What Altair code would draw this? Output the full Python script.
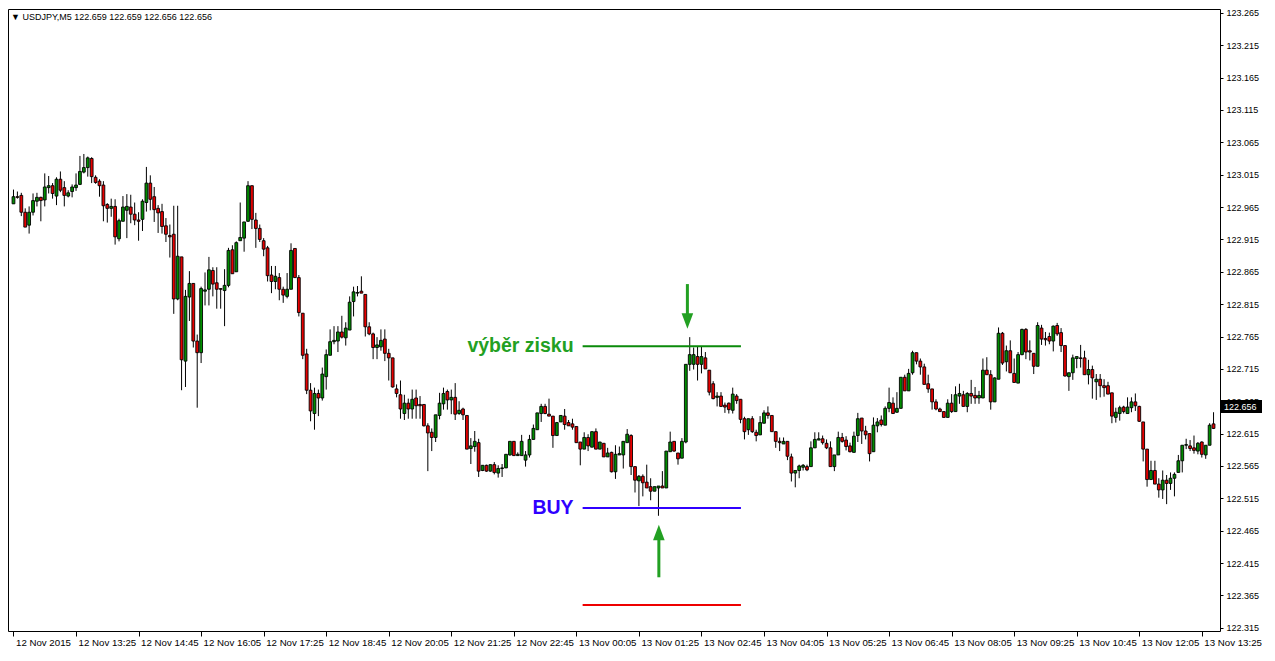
import json
import altair as alt
import pandas as pd

# ---------------- data (USDJPY M5) ----------------
OPEN = [
    122.970, 122.981, 122.983, 122.957, 122.937, 122.957, 122.974, 122.980, 122.976, 122.995,
    122.998, 122.982, 123.008, 122.995, 122.982, 122.989, 122.995, 123.000, 123.019, 123.026,
    123.040, 123.011, 123.005, 122.999, 122.969, 122.963, 122.966, 122.916, 122.943, 122.960,
    122.965, 122.954, 122.945, 122.946, 122.972, 123.002, 122.981, 122.963, 122.958, 122.936,
    122.921, 122.923, 122.823, 122.888, 122.727, 122.826, 122.847, 122.758, 122.740, 122.835,
    122.838, 122.867, 122.848, 122.839, 122.836, 122.844, 122.899, 122.865, 122.913, 122.917,
    122.943, 122.998, 122.945, 122.932, 122.913, 122.902, 122.860, 122.850, 122.856, 122.838,
    122.827, 122.838, 122.901, 122.856, 122.801, 122.738, 122.682, 122.646, 122.677, 122.670,
    122.703, 122.736, 122.757, 122.758, 122.772, 122.763, 122.775, 122.819, 122.832, 122.835,
    122.830, 122.780, 122.769, 122.748, 122.749, 122.761, 122.739, 122.732, 122.684, 122.675,
    122.646, 122.662, 122.653, 122.670, 122.660, 122.660, 122.627, 122.617, 122.609, 122.643,
    122.661, 122.680, 122.667, 122.671, 122.646, 122.653, 122.643, 122.592, 122.595, 122.601,
    122.558, 122.566, 122.557, 122.567, 122.554, 122.561, 122.562, 122.582, 122.603, 122.581,
    122.581, 122.574, 122.582, 122.606, 122.621, 122.646, 122.657, 122.645, 122.642, 122.612,
    122.633, 122.642, 122.632, 122.630, 122.626, 122.602, 122.591, 122.609, 122.594, 122.618,
    122.591, 122.600, 122.579, 122.586, 122.556, 122.582, 122.582, 122.601, 122.612, 122.564,
    122.542, 122.549, 122.540, 122.533, 122.526, 122.531, 122.534, 122.531, 122.587, 122.603,
    122.585, 122.577, 122.602, 122.722, 122.722, 122.734, 122.722, 122.732, 122.713, 122.692,
    122.671, 122.673, 122.659, 122.662, 122.651, 122.673, 122.668, 122.638, 122.621, 122.638,
    122.617, 122.613, 122.631, 122.647, 122.643, 122.618, 122.603, 122.599, 122.603, 122.579,
    122.554, 122.558, 122.563, 122.564, 122.564, 122.593, 122.605, 122.607, 122.600, 122.593,
    122.564, 122.582, 122.609, 122.605, 122.596, 122.586, 122.612, 122.639, 122.619, 122.615,
    122.587, 122.627, 122.636, 122.628, 122.654, 122.662, 122.648, 122.654, 122.702, 122.681,
    122.709, 122.740, 122.727, 122.718, 122.692, 122.684, 122.664, 122.653, 122.649, 122.640,
    122.662, 122.649, 122.673, 122.675, 122.657, 122.677, 122.674, 122.670, 122.670, 122.713,
    122.706, 122.664, 122.699, 122.770, 122.726, 122.743, 122.708, 122.693, 122.737, 122.776,
    122.743, 122.739, 122.719, 122.778, 122.762, 122.765, 122.758, 122.782, 122.771, 122.751,
    122.703, 122.709, 122.731, 122.732, 122.732, 122.706, 122.714, 122.695, 122.699, 122.689,
    122.689, 122.678, 122.640, 122.646, 122.656, 122.646, 122.655, 122.664, 122.657, 122.633,
    122.591, 122.544, 122.558, 122.537, 122.528, 122.543, 122.538, 122.546, 122.555, 122.573,
    122.597, 122.596, 122.593, 122.588, 122.602, 122.582, 122.597, 122.630,
]
HIGH = [
    122.992, 122.989, 122.987, 122.963, 122.966, 122.986, 122.987, 122.981, 123.017, 123.013,
    123.002, 123.011, 123.020, 123.005, 122.991, 123.000, 123.017, 123.044, 123.047, 123.043,
    123.042, 123.014, 123.008, 123.005, 122.971, 122.978, 122.977, 122.947, 122.982, 122.985,
    122.984, 122.972, 122.957, 122.977, 123.027, 123.014, 122.996, 122.968, 122.970, 122.948,
    122.938, 122.967, 122.967, 122.888, 122.837, 122.866, 122.847, 122.768, 122.842, 122.864,
    122.888, 122.872, 122.872, 122.839, 122.869, 122.902, 122.906, 122.912, 122.972, 122.942,
    123.005, 122.998, 122.956, 122.938, 122.917, 122.905, 122.874, 122.874, 122.863, 122.842,
    122.863, 122.909, 122.901, 122.860, 122.801, 122.746, 122.693, 122.686, 122.683, 122.717,
    122.745, 122.776, 122.781, 122.781, 122.797, 122.787, 122.827, 122.842, 122.843, 122.858,
    122.830, 122.787, 122.771, 122.764, 122.776, 122.776, 122.746, 122.732, 122.691, 122.697,
    122.675, 122.669, 122.683, 122.683, 122.673, 122.660, 122.631, 122.623, 122.644, 122.678,
    122.686, 122.683, 122.683, 122.693, 122.665, 122.655, 122.643, 122.608, 122.619, 122.607,
    122.566, 122.567, 122.567, 122.571, 122.566, 122.568, 122.583, 122.603, 122.603, 122.586,
    122.613, 122.588, 122.613, 122.629, 122.647, 122.661, 122.661, 122.669, 122.642, 122.633,
    122.643, 122.653, 122.636, 122.638, 122.626, 122.602, 122.617, 122.614, 122.618, 122.623,
    122.602, 122.600, 122.593, 122.587, 122.597, 122.595, 122.603, 122.622, 122.614, 122.564,
    122.551, 122.552, 122.567, 122.546, 122.533, 122.534, 122.557, 122.588, 122.618, 122.603,
    122.585, 122.608, 122.722, 122.764, 122.748, 122.750, 122.750, 122.741, 122.713, 122.696,
    122.679, 122.679, 122.663, 122.663, 122.686, 122.676, 122.668, 122.641, 122.638, 122.642,
    122.621, 122.642, 122.651, 122.657, 122.643, 122.618, 122.609, 122.609, 122.603, 122.584,
    122.558, 122.567, 122.568, 122.567, 122.603, 122.617, 122.617, 122.612, 122.606, 122.603,
    122.582, 122.618, 122.616, 122.611, 122.601, 122.618, 122.647, 122.639, 122.627, 122.615,
    122.640, 122.639, 122.643, 122.657, 122.686, 122.671, 122.679, 122.702, 122.706, 122.715,
    122.743, 122.740, 122.731, 122.723, 122.706, 122.684, 122.668, 122.655, 122.649, 122.668,
    122.676, 122.688, 122.692, 122.681, 122.679, 122.698, 122.687, 122.681, 122.731, 122.733,
    122.713, 122.702, 122.779, 122.772, 122.751, 122.759, 122.731, 122.741, 122.777, 122.778,
    122.759, 122.739, 122.787, 122.783, 122.772, 122.771, 122.782, 122.786, 122.778, 122.751,
    122.709, 122.737, 122.734, 122.752, 122.743, 122.729, 122.720, 122.707, 122.707, 122.699,
    122.695, 122.678, 122.655, 122.658, 122.658, 122.671, 122.671, 122.677, 122.658, 122.633,
    122.591, 122.573, 122.573, 122.546, 122.558, 122.551, 122.555, 122.555, 122.582, 122.597,
    122.607, 122.605, 122.612, 122.602, 122.603, 122.597, 122.631, 122.648,
]
LOW = [
    122.970, 122.978, 122.951, 122.934, 122.924, 122.952, 122.966, 122.943, 122.966, 122.986,
    122.978, 122.968, 122.988, 122.966, 122.980, 122.980, 122.990, 122.999, 123.017, 123.012,
    123.002, 123.001, 122.981, 122.943, 122.941, 122.950, 122.907, 122.912, 122.943, 122.917,
    122.940, 122.937, 122.913, 122.928, 122.958, 122.960, 122.942, 122.925, 122.924, 122.911,
    122.887, 122.800, 122.821, 122.682, 122.687, 122.789, 122.748, 122.655, 122.724, 122.813,
    122.813, 122.827, 122.808, 122.808, 122.781, 122.841, 122.862, 122.865, 122.913, 122.896,
    122.942, 122.931, 122.902, 122.911, 122.889, 122.850, 122.832, 122.838, 122.821, 122.817,
    122.824, 122.838, 122.856, 122.796, 122.730, 122.676, 122.634, 122.621, 122.642, 122.666,
    122.683, 122.736, 122.753, 122.741, 122.762, 122.751, 122.775, 122.796, 122.827, 122.832,
    122.765, 122.767, 122.730, 122.730, 122.743, 122.727, 122.697, 122.686, 122.671, 122.638,
    122.636, 122.638, 122.638, 122.638, 122.638, 122.626, 122.557, 122.588, 122.602, 122.637,
    122.652, 122.652, 122.645, 122.636, 122.644, 122.636, 122.591, 122.568, 122.587, 122.548,
    122.557, 122.556, 122.556, 122.552, 122.547, 122.548, 122.562, 122.581, 122.581, 122.581,
    122.581, 122.564, 122.578, 122.606, 122.621, 122.633, 122.645, 122.642, 122.593, 122.612,
    122.633, 122.621, 122.627, 122.621, 122.601, 122.566, 122.591, 122.588, 122.594, 122.591,
    122.591, 122.579, 122.579, 122.555, 122.545, 122.582, 122.561, 122.601, 122.551, 122.524,
    122.503, 122.518, 122.531, 122.512, 122.526, 122.488, 122.531, 122.531, 122.587, 122.587,
    122.567, 122.577, 122.600, 122.712, 122.714, 122.697, 122.708, 122.715, 122.674, 122.668,
    122.657, 122.656, 122.647, 122.646, 122.646, 122.661, 122.631, 122.606, 122.613, 122.616,
    122.603, 122.613, 122.631, 122.638, 122.618, 122.593, 122.588, 122.599, 122.574, 122.541,
    122.532, 122.546, 122.558, 122.557, 122.564, 122.593, 122.605, 122.598, 122.591, 122.564,
    122.557, 122.582, 122.601, 122.589, 122.586, 122.586, 122.602, 122.599, 122.606, 122.572,
    122.587, 122.617, 122.626, 122.628, 122.648, 122.646, 122.647, 122.654, 122.681, 122.681,
    122.706, 122.722, 122.706, 122.691, 122.678, 122.652, 122.651, 122.649, 122.640, 122.640,
    122.647, 122.649, 122.661, 122.657, 122.648, 122.661, 122.661, 122.661, 122.670, 122.706,
    122.652, 122.664, 122.699, 122.721, 122.711, 122.709, 122.694, 122.693, 122.736, 122.730,
    122.728, 122.707, 122.719, 122.752, 122.751, 122.753, 122.742, 122.766, 122.741, 122.703,
    122.681, 122.698, 122.716, 122.717, 122.706, 122.691, 122.669, 122.667, 122.671, 122.672,
    122.676, 122.631, 122.632, 122.635, 122.646, 122.646, 122.648, 122.650, 122.633, 122.572,
    122.533, 122.544, 122.537, 122.516, 122.514, 122.506, 122.528, 122.518, 122.555, 122.555,
    122.591, 122.588, 122.584, 122.583, 122.578, 122.576, 122.597, 122.622,
]
CLOSE = [
    122.981, 122.980, 122.957, 122.934, 122.957, 122.975, 122.980, 122.975, 122.996, 122.998,
    122.986, 123.008, 122.991, 122.983, 122.987, 122.996, 122.999, 123.020, 123.026, 123.041,
    123.012, 123.003, 122.998, 122.967, 122.963, 122.966, 122.919, 122.944, 122.965, 122.966,
    122.954, 122.945, 122.943, 122.974, 123.002, 122.977, 122.961, 122.956, 122.935, 122.923,
    122.919, 122.823, 122.889, 122.729, 122.827, 122.847, 122.758, 122.740, 122.839, 122.837,
    122.868, 122.846, 122.838, 122.838, 122.844, 122.898, 122.862, 122.910, 122.918, 122.942,
    122.998, 122.946, 122.932, 122.915, 122.900, 122.859, 122.850, 122.858, 122.838, 122.829,
    122.838, 122.898, 122.856, 122.802, 122.736, 122.682, 122.650, 122.677, 122.670, 122.707,
    122.737, 122.757, 122.759, 122.772, 122.764, 122.778, 122.818, 122.834, 122.833, 122.832,
    122.780, 122.769, 122.748, 122.752, 122.759, 122.739, 122.732, 122.687, 122.677, 122.653,
    122.662, 122.653, 122.668, 122.658, 122.658, 122.627, 122.616, 122.609, 122.644, 122.662,
    122.677, 122.667, 122.671, 122.645, 122.651, 122.644, 122.591, 122.596, 122.603, 122.557,
    122.566, 122.557, 122.567, 122.555, 122.561, 122.562, 122.583, 122.603, 122.581, 122.583,
    122.603, 122.582, 122.606, 122.623, 122.647, 122.657, 122.646, 122.642, 122.612, 122.632,
    122.643, 122.629, 122.627, 122.625, 122.601, 122.591, 122.609, 122.596, 122.618, 122.591,
    122.602, 122.579, 122.585, 122.556, 122.583, 122.584, 122.603, 122.614, 122.564, 122.543,
    122.549, 122.539, 122.531, 122.526, 122.533, 122.534, 122.531, 122.588, 122.602, 122.588,
    122.576, 122.603, 122.722, 122.737, 122.737, 122.722, 122.734, 122.715, 122.679, 122.669,
    122.673, 122.657, 122.656, 122.652, 122.676, 122.666, 122.637, 122.618, 122.638, 122.618,
    122.612, 122.632, 122.647, 122.643, 122.618, 122.603, 122.601, 122.603, 122.580, 122.554,
    122.558, 122.565, 122.566, 122.559, 122.593, 122.606, 122.607, 122.601, 122.593, 122.564,
    122.582, 122.609, 122.603, 122.595, 122.587, 122.611, 122.638, 122.619, 122.613, 122.584,
    122.628, 122.633, 122.629, 122.654, 122.663, 122.646, 122.654, 122.702, 122.681, 122.708,
    122.740, 122.727, 122.718, 122.691, 122.684, 122.664, 122.653, 122.649, 122.640, 122.662,
    122.649, 122.675, 122.677, 122.657, 122.677, 122.673, 122.670, 122.674, 122.713, 122.706,
    122.664, 122.701, 122.770, 122.724, 122.743, 122.709, 122.694, 122.737, 122.776, 122.741,
    122.741, 122.719, 122.782, 122.761, 122.760, 122.758, 122.781, 122.769, 122.751, 122.704,
    122.709, 122.732, 122.734, 122.731, 122.706, 122.714, 122.701, 122.699, 122.689, 122.686,
    122.676, 122.642, 122.648, 122.655, 122.649, 122.656, 122.664, 122.658, 122.634, 122.591,
    122.544, 122.558, 122.537, 122.528, 122.543, 122.538, 122.546, 122.552, 122.573, 122.597,
    122.598, 122.592, 122.589, 122.600, 122.583, 122.597, 122.628, 122.623,
]

X_TICK_LABELS = [
    "12 Nov 2015", "12 Nov 13:25", "12 Nov 14:45", "12 Nov 16:05", "12 Nov 17:25",
    "12 Nov 18:45", "12 Nov 20:05", "12 Nov 21:25", "12 Nov 22:45", "13 Nov 00:05",
    "13 Nov 01:25", "13 Nov 02:45", "13 Nov 04:05", "13 Nov 05:25", "13 Nov 06:45",
    "13 Nov 08:05", "13 Nov 09:25", "13 Nov 10:45", "13 Nov 12:05", "13 Nov 13:25",
]
BARS_PER_LABEL = 16
Y_TICKS = [
    122.315, 122.365, 122.415, 122.465, 122.515, 122.565, 122.615, 122.665, 122.715, 122.765,
    122.815, 122.865, 122.915, 122.965, 123.015, 123.065, 123.115, 123.165, 123.215, 123.265,
]

HEADER = "\u25BC USDJPY,M5  122.659 122.659 122.656 122.656"
BID = 122.656

LEVEL_TEXT = ["výběr zisku", "BUY", ""]
LEVEL_PRICE = [122.750, 122.500, 122.350]
LEVEL_COLOR = ["#0a8a0a", "#3000ff", "#ee0000"]
TEXT_COLOR = ["#22a022", "#3000ff", "#ee0000"]
LEVEL_FROM = [145.6, 145.6, 145.6]
LEVEL_TO = [186.1, 186.1, 186.1]

ARROW_X = [172.4, 165.1]
ARROW_TAIL = [122.846, 122.393]
ARROW_NECK = [122.797, 122.455]
ARROW_HEAD = [122.789, 122.462]
ARROW_PATH = ["M-0.75,-1L0.75,-1L0,1Z", "M0,-1L0.75,1L-0.75,1Z"]

# ---------------- chart ----------------
N = len(CLOSE)
W, H = 1212, 622
GREEN, RED = "#008c00", "#e60000"
FONT = "Liberation Sans"

df = pd.DataFrame({"i": list(range(N)), "open": OPEN, "high": HIGH, "low": LOW, "close": CLOSE})
df["dir"] = ["up" if c > o else ("down" if c < o else "flat") for o, c in zip(OPEN, CLOSE)]

xs = alt.Scale(domain=[-0.125, N - 0.625], nice=False, zero=False)
ys = alt.Scale(domain=[122.310, 123.271], nice=False, zero=False)

label_expr = f"{json.dumps(X_TICK_LABELS)}[round(datum.value / {BARS_PER_LABEL})]"
x_axis = alt.Axis(values=[BARS_PER_LABEL * k for k in range(len(X_TICK_LABELS))],
                  labelExpr=label_expr, title=None, grid=False, domain=False,
                  tickSize=5, tickColor="black", labelAlign="left", labelBaseline="top",
                  labelPadding=1, labelOffset=2, labelOverlap=False, labelFlush=False,
                  labelBound=False, labelFontSize=9.7)
y_axis = alt.Axis(orient="right", values=Y_TICKS, format=".3f", title=None, grid=False,
                  domain=False, tickSize=3, tickColor="black", labelPadding=3,
                  labelOverlap=False, labelFlush=False, labelBound=False, labelFontSize=9)


def X(f):
    return alt.X(f, type="quantitative", scale=xs, axis=x_axis)


def Y(f):
    return alt.Y(f, type="quantitative", scale=ys, axis=y_axis)


wicks = alt.Chart(df).mark_rule(color="black", strokeWidth=1).encode(
    x=X("i"), y=Y("low"), y2="high")
bodies = alt.Chart(df).mark_bar(size=2.8, stroke="black", strokeWidth=0.9).encode(
    x=X("i"), y=Y("open"), y2="close",
    color=alt.Color("dir:N", scale=alt.Scale(domain=["up", "down", "flat"],
                                             range=[GREEN, RED, "black"]), legend=None))

lv = pd.DataFrame({"text": LEVEL_TEXT, "price": LEVEL_PRICE, "color": LEVEL_COLOR,
                   "tcolor": TEXT_COLOR, "x0": LEVEL_FROM, "x1": LEVEL_TO})
levels = alt.Chart(lv).mark_rule(strokeWidth=2).encode(
    x=X("x0"), x2="x1", y=Y("price"), color=alt.Color("color:N", scale=None))
level_text = alt.Chart(lv).mark_text(align="right", baseline="middle", dx=-9, fontSize=19.5,
                                     fontWeight="bold", font=FONT).encode(
    x=X("x0"), y=Y("price"), text="text:N", color=alt.Color("tcolor:N", scale=None))

ar = pd.DataFrame({"x": ARROW_X, "tail": ARROW_TAIL, "neck": ARROW_NECK,
                   "head": ARROW_HEAD, "path": ARROW_PATH})
shafts = alt.Chart(ar).mark_rule(color="#22a022", strokeWidth=3).encode(
    x=X("x"), y=Y("tail"), y2="neck")
heads = alt.Chart(ar).mark_point(filled=True, opacity=1, size=240, color="#22a022").encode(
    x=X("x"), y=Y("head"), shape=alt.Shape("path:N", scale=None))

bid_df = pd.DataFrame({"price": [BID], "label": [f"{BID:.3f}"]})
bid_box = alt.Chart(bid_df).mark_rect(color="black", yOffset=-7, y2Offset=6).encode(
    x=alt.value(W + 1), x2=alt.value(W + 42), y=Y("price"), y2="price")
bid_text = alt.Chart(bid_df).mark_text(align="left", baseline="middle", color="white",
                                       fontSize=9, font=FONT).encode(
    x=alt.value(W + 4), y=Y("price"), text="label:N")

header = alt.Chart(pd.DataFrame({"t": [HEADER]})).mark_text(
    align="left", baseline="middle", fontSize=9, font=FONT, color="black").encode(
    x=alt.value(3), y=alt.value(8), text="t:N")

chart = alt.layer(wicks, bodies, levels, level_text, shafts, heads, bid_box, bid_text, header
                  ).properties(width=W, height=H, padding=0, background="white"
                  ).configure_view(stroke="black", strokeWidth=1
                  ).configure_axis(labelFont=FONT, labelColor="black")

chart.save("out.html", embed_options={"renderer": "svg", "actions": False})
